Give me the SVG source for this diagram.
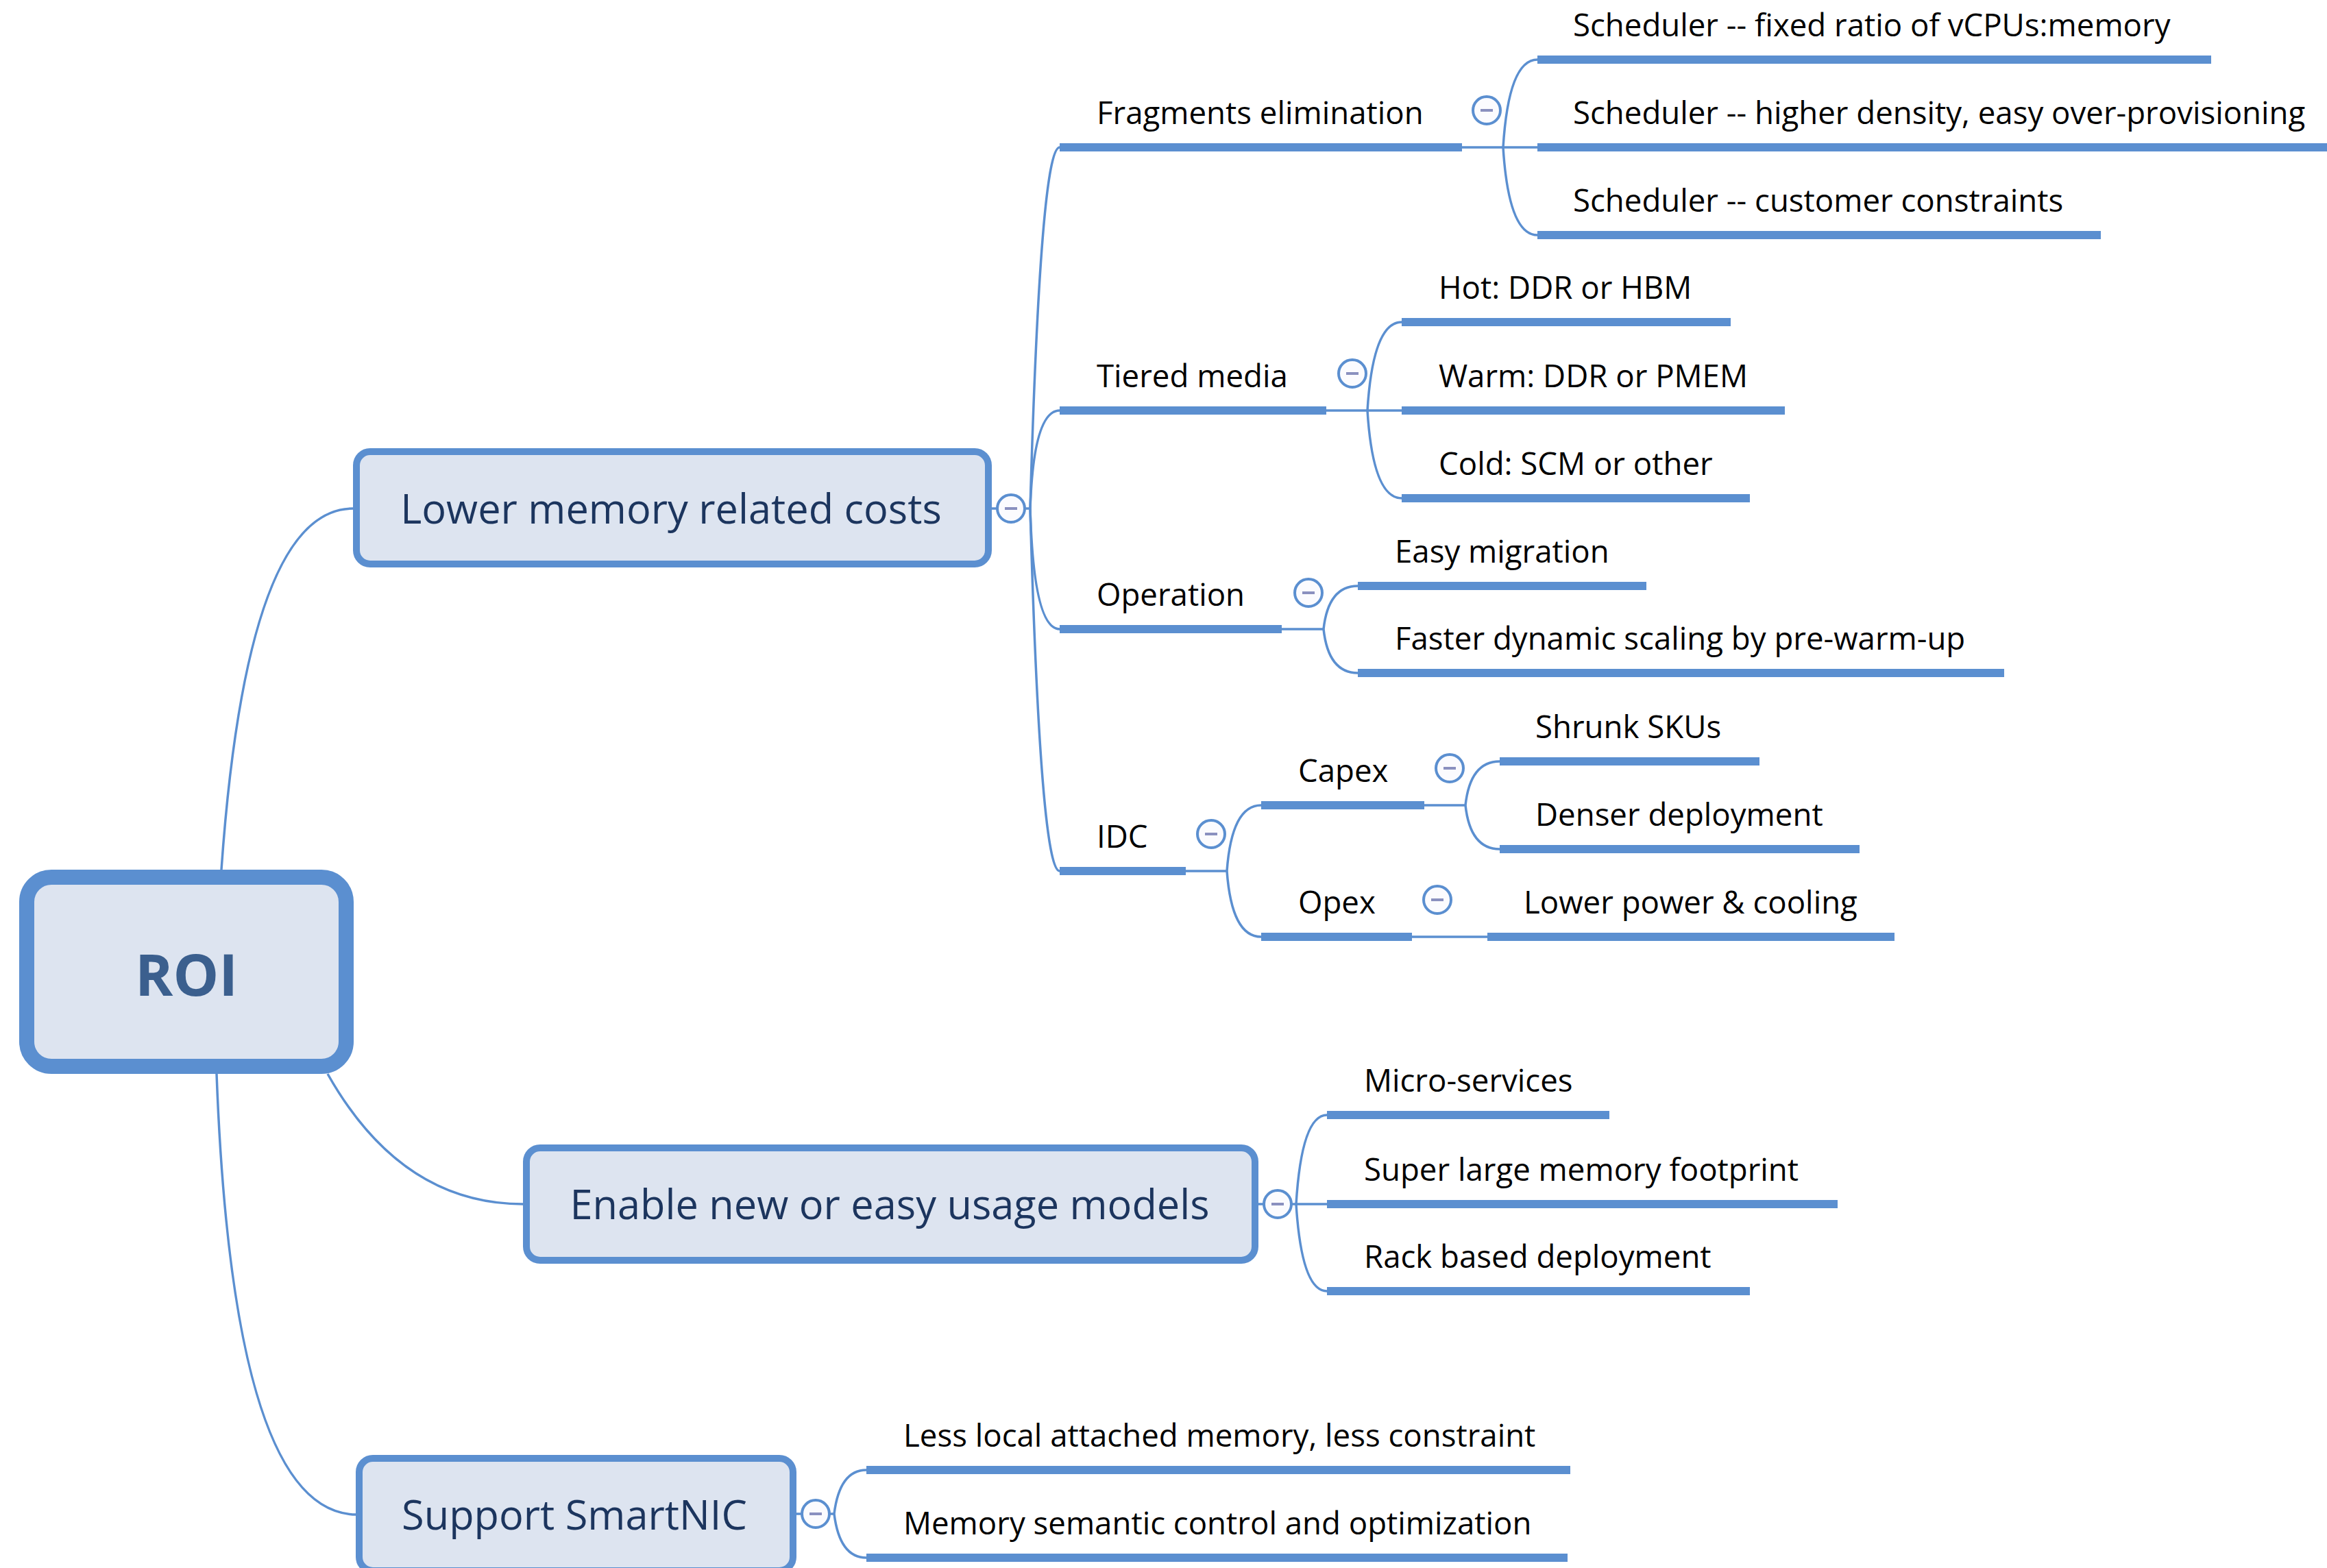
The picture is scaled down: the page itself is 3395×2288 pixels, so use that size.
<svg xmlns="http://www.w3.org/2000/svg" xmlns:xlink="http://www.w3.org/1999/xlink" width="3395" height="2288" viewBox="0 0 3395 2288">
<style>
.conn{fill:none;stroke:#5B8FD0;stroke-width:3.5}
.ul{stroke:#5B8FD0;stroke-width:12}
.t{font-family:"Open Sans","Noto Sans",sans-serif;font-size:45.6px;fill:#000}
.box{fill:#DDE4F0;stroke:#5B8FD0;stroke-width:10}
.tt{font-family:"Open Sans","Noto Sans",sans-serif;font-size:59.5px;fill:#1C355E;text-anchor:middle}
.col circle{fill:#FBFBFE;stroke:#5B8FD0;stroke-width:4}
.col rect{fill:#8A90BF}
</style>
<defs>
<g id="collapse" class="col"><circle cx="0" cy="0" r="20"/><rect x="-9" y="-2" width="18" height="4"/></g>
</defs>
<rect width="3395" height="2288" fill="#fff"/>
<g id="connectors">
<path class="conn" d="M323 1269 Q360 742 515 742"/>
<path class="conn" d="M478 1567 Q585 1757 763 1757"/>
<path class="conn" d="M316 1567 Q340 2210 521 2210"/>
<path class="conn" d="M1447 742 H1503"/>
<path class="conn" d="M1503 742 Q1518 215 1546 215"/>
<path class="conn" d="M1503 742 Q1508 599 1546 599"/>
<path class="conn" d="M1503 742 Q1508 918 1546 918"/>
<path class="conn" d="M1503 742 Q1518 1271 1546 1271"/>
<path class="conn" d="M2133 215 H2243"/>
<path class="conn" d="M2193 215 Q2201 87 2243 87"/>
<path class="conn" d="M2193 215 Q2201 343 2243 343"/>
<path class="conn" d="M1935 599 H2045"/>
<path class="conn" d="M1995 599 Q2003 470 2045 470"/>
<path class="conn" d="M1995 599 Q2003 727 2045 727"/>
<path class="conn" d="M1870 918 H1931"/>
<path class="conn" d="M1931 918 Q1938 855 1981 855"/>
<path class="conn" d="M1931 918 Q1938 982 1981 982"/>
<path class="conn" d="M1730 1271 H1790"/>
<path class="conn" d="M1790 1271 Q1797 1175 1840 1175"/>
<path class="conn" d="M1790 1271 Q1797 1367 1840 1367"/>
<path class="conn" d="M2078 1175 H2138"/>
<path class="conn" d="M2138 1175 Q2145 1111 2188 1111"/>
<path class="conn" d="M2138 1175 Q2145 1239 2188 1239"/>
<path class="conn" d="M2060 1367 H2170"/>
<path class="conn" d="M1831 1757 H1936"/>
<path class="conn" d="M1891 1757 Q1899 1627 1936 1627"/>
<path class="conn" d="M1891 1757 Q1899 1884 1936 1884"/>
<path class="conn" d="M1157 2209 H1217"/>
<path class="conn" d="M1217 2209 Q1225 2145 1264 2145"/>
<path class="conn" d="M1217 2209 Q1225 2273 1264 2273"/>
</g>
<g id="roi">
<rect x="39" y="1280" width="466" height="276" rx="36" fill="#DDE4F0" stroke="#5B8FD0" stroke-width="22"/>
<text x="272" y="1453" text-anchor="middle" font-family="'Open Sans','Noto Sans',sans-serif" font-weight="bold" font-size="84" fill="#3B5F8E">ROI</text>
</g>
<g id="lower-memory">
<rect class="box" x="520" y="659" width="922" height="164" rx="20"/>
<text class="tt" x="979" y="764">Lower memory related costs</text>
<use xlink:href="#collapse" x="1475" y="742"/>
</g>
<g id="enable">
<rect class="box" x="768" y="1675" width="1063" height="164" rx="20"/>
<text class="tt" x="1298" y="1779">Enable new or easy usage models</text>
<use xlink:href="#collapse" x="1864" y="1757"/>
</g>
<g id="smartnic">
<rect class="box" x="524" y="2128" width="633" height="164" rx="20"/>
<text class="tt" x="838" y="2232">Support SmartNIC</text>
<use xlink:href="#collapse" x="1190" y="2209"/>
</g>
<g id="fragments">
<line class="ul" x1="1546" y1="215" x2="2133" y2="215"/>
<text class="t" x="1600" y="181">Fragments elimination</text>
<use xlink:href="#collapse" x="2169" y="161"/>
</g>
<g id="sched-fixed">
<line class="ul" x1="2243" y1="87" x2="3226" y2="87"/>
<text class="t" x="2295" y="53">Scheduler -- fixed ratio of vCPUs:memory</text>
</g>
<g id="sched-density">
<line class="ul" x1="2243" y1="215" x2="3400" y2="215"/>
<text class="t" x="2295" y="181">Scheduler -- higher density, easy over-provisioning</text>
</g>
<g id="sched-customer">
<line class="ul" x1="2243" y1="343" x2="3065" y2="343"/>
<text class="t" x="2295" y="309">Scheduler -- customer constraints</text>
</g>
<g id="tiered">
<line class="ul" x1="1546" y1="599" x2="1935" y2="599"/>
<text class="t" x="1600" y="565">Tiered media</text>
<use xlink:href="#collapse" x="1973" y="545"/>
</g>
<g id="hot">
<line class="ul" x1="2045" y1="470" x2="2525" y2="470"/>
<text class="t" x="2099" y="436">Hot: DDR or HBM</text>
</g>
<g id="warm">
<line class="ul" x1="2045" y1="599" x2="2604" y2="599"/>
<text class="t" x="2099" y="565">Warm: DDR or PMEM</text>
</g>
<g id="cold">
<line class="ul" x1="2045" y1="727" x2="2553" y2="727"/>
<text class="t" x="2099" y="693">Cold: SCM or other</text>
</g>
<g id="operation">
<line class="ul" x1="1546" y1="918" x2="1870" y2="918"/>
<text class="t" x="1600" y="884">Operation</text>
<use xlink:href="#collapse" x="1909" y="865"/>
</g>
<g id="easy-migration">
<line class="ul" x1="1981" y1="855" x2="2402" y2="855"/>
<text class="t" x="2035" y="821">Easy migration</text>
</g>
<g id="faster-scaling">
<line class="ul" x1="1981" y1="982" x2="2924" y2="982"/>
<text class="t" x="2035" y="948">Faster dynamic scaling by pre-warm-up</text>
</g>
<g id="idc">
<line class="ul" x1="1546" y1="1271" x2="1730" y2="1271"/>
<text class="t" x="1600" y="1237">IDC</text>
<use xlink:href="#collapse" x="1767" y="1217"/>
</g>
<g id="capex">
<line class="ul" x1="1840" y1="1175" x2="2078" y2="1175"/>
<text class="t" x="1894" y="1141">Capex</text>
<use xlink:href="#collapse" x="2115" y="1121"/>
</g>
<g id="shrunk">
<line class="ul" x1="2188" y1="1111" x2="2567" y2="1111"/>
<text class="t" x="2240" y="1077">Shrunk SKUs</text>
</g>
<g id="denser">
<line class="ul" x1="2188" y1="1239" x2="2713" y2="1239"/>
<text class="t" x="2240" y="1205">Denser deployment</text>
</g>
<g id="opex">
<line class="ul" x1="1840" y1="1367" x2="2060" y2="1367"/>
<text class="t" x="1894" y="1333">Opex</text>
<use xlink:href="#collapse" x="2097" y="1313"/>
</g>
<g id="lower-power">
<line class="ul" x1="2170" y1="1367" x2="2764" y2="1367"/>
<text class="t" x="2223" y="1333">Lower power &amp; cooling</text>
</g>
<g id="micro">
<line class="ul" x1="1936" y1="1627" x2="2348" y2="1627"/>
<text class="t" x="1990" y="1593">Micro-services</text>
</g>
<g id="super-large">
<line class="ul" x1="1936" y1="1757" x2="2681" y2="1757"/>
<text class="t" x="1990" y="1723">Super large memory footprint</text>
</g>
<g id="rack">
<line class="ul" x1="1936" y1="1884" x2="2553" y2="1884"/>
<text class="t" x="1990" y="1850">Rack based deployment</text>
</g>
<g id="less-local">
<line class="ul" x1="1264" y1="2145" x2="2291" y2="2145"/>
<text class="t" x="1318" y="2111">Less local attached memory, less constraint</text>
</g>
<g id="memory-semantic">
<line class="ul" x1="1264" y1="2273" x2="2287" y2="2273"/>
<text class="t" x="1318" y="2239">Memory semantic control and optimization</text>
</g>
</svg>
